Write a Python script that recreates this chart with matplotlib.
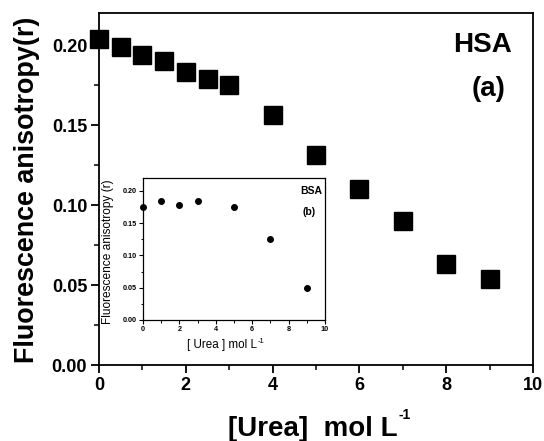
import matplotlib
matplotlib.use("Agg")
import matplotlib.pyplot as plt
from matplotlib.ticker import MultipleLocator, FormatStrFormatter

plt.rcParams['font.family'] = ['Liberation Sans', 'DejaVu Sans']

# Main (HSA) data
urea_hsa = [0, 0.5, 1, 1.5, 2, 2.5, 3, 4, 5, 6, 7, 8, 9]
r_hsa = [0.204, 0.199, 0.194, 0.190, 0.183, 0.179, 0.175, 0.156, 0.131, 0.110, 0.090, 0.063, 0.054]

# Inset (BSA) data
urea_bsa = [0, 1, 2, 3, 5, 7, 9]
r_bsa = [0.175, 0.185, 0.178, 0.185, 0.175, 0.126, 0.050]

W, H = 544, 441
fig = plt.figure(figsize=(W / 100, H / 100), dpi=100)
ax = fig.add_axes([0.182, 0.1723, 0.798, 0.798])
ax.plot(urea_hsa, r_hsa, 's', color='black', markersize=12.5, clip_on=False, zorder=3)
ax.set_xlim(0, 10)
ax.set_ylim(0, 0.22)
ax.xaxis.set_major_locator(MultipleLocator(2))
ax.xaxis.set_minor_locator(MultipleLocator(1))
ax.yaxis.set_major_locator(MultipleLocator(0.05))
ax.yaxis.set_minor_locator(MultipleLocator(0.025))
ax.yaxis.set_major_formatter(FormatStrFormatter('%.2f'))
ax.tick_params(which='major', direction='out', length=6, width=1.3, labelsize=13, pad=2.5)
ax.tick_params(which='minor', direction='out', length=3.5, width=1.1)
for lab in ax.get_xticklabels() + ax.get_yticklabels():
    lab.set_fontweight('bold')
for s in ax.spines.values():
    s.set_linewidth(1.3)
ax.set_ylabel('Fluorescence anisotropy(r)', fontsize=19.4, fontweight='bold')
ax.yaxis.set_label_coords(-0.136, 0.497)
ax.text(0.95, 0.91, 'HSA', transform=ax.transAxes, fontsize=20, fontweight='bold', ha='right', va='center')
ax.text(0.937, 0.785, '(a)', transform=ax.transAxes, fontsize=20, fontweight='bold', ha='right', va='center')

ins = fig.add_axes([0.2629, 0.2744, 0.3346, 0.322])
ins.plot(urea_bsa, r_bsa, 'o', color='black', markersize=4, clip_on=False, zorder=3)
ins.set_xlim(0, 10)
ins.set_ylim(0, 0.22)
ins.xaxis.set_major_locator(MultipleLocator(2))
ins.xaxis.set_minor_locator(MultipleLocator(1))
ins.yaxis.set_major_locator(MultipleLocator(0.05))
ins.yaxis.set_minor_locator(MultipleLocator(0.025))
ins.yaxis.set_major_formatter(FormatStrFormatter('%.2f'))
ins.tick_params(which='major', direction='out', length=3, width=0.8, labelsize=5.2, pad=1.5)
ins.tick_params(which='minor', direction='out', length=1.8, width=0.7)
for lab in ins.get_xticklabels() + ins.get_yticklabels():
    lab.set_fontweight('bold')
for s in ins.spines.values():
    s.set_linewidth(0.9)
ins.set_ylabel('Fluorescence anisotropy (r)', fontsize=8.6)
ins.yaxis.set_label_coords(-0.16, 0.479)
ins.text(0.984, 0.905, 'BSA', transform=ins.transAxes, fontsize=7.5, fontweight='bold', ha='right', va='center')
ins.text(0.95, 0.76, '(b)', transform=ins.transAxes, fontsize=7.5, fontweight='bold', ha='right', va='center')

# x labels with small superscripts, placed by measuring the rendered base text
fig.canvas.draw()
renderer = fig.canvas.get_renderer()

def label_with_sup(x_px, base_px, text, sup, size, sup_size, rise, weight):
    t = fig.text(x_px / W, 1 - base_px / H, text, fontsize=size, fontweight=weight,
                 ha='left', va='baseline')
    bb = t.get_window_extent(renderer)
    fig.text((bb.x1 + 0.5) / W, 1 - (base_px - rise) / H, sup, fontsize=sup_size,
             fontweight=weight, ha='left', va='baseline')

label_with_sup(228, 436, '[Urea]  mol L', '-1', 20, 10, 17, 'bold')
label_with_sup(187, 348, '[ Urea ] mol L', '-1', 8.4, 5.5, 5, 'normal')

fig.savefig('out.png', dpi=100)
